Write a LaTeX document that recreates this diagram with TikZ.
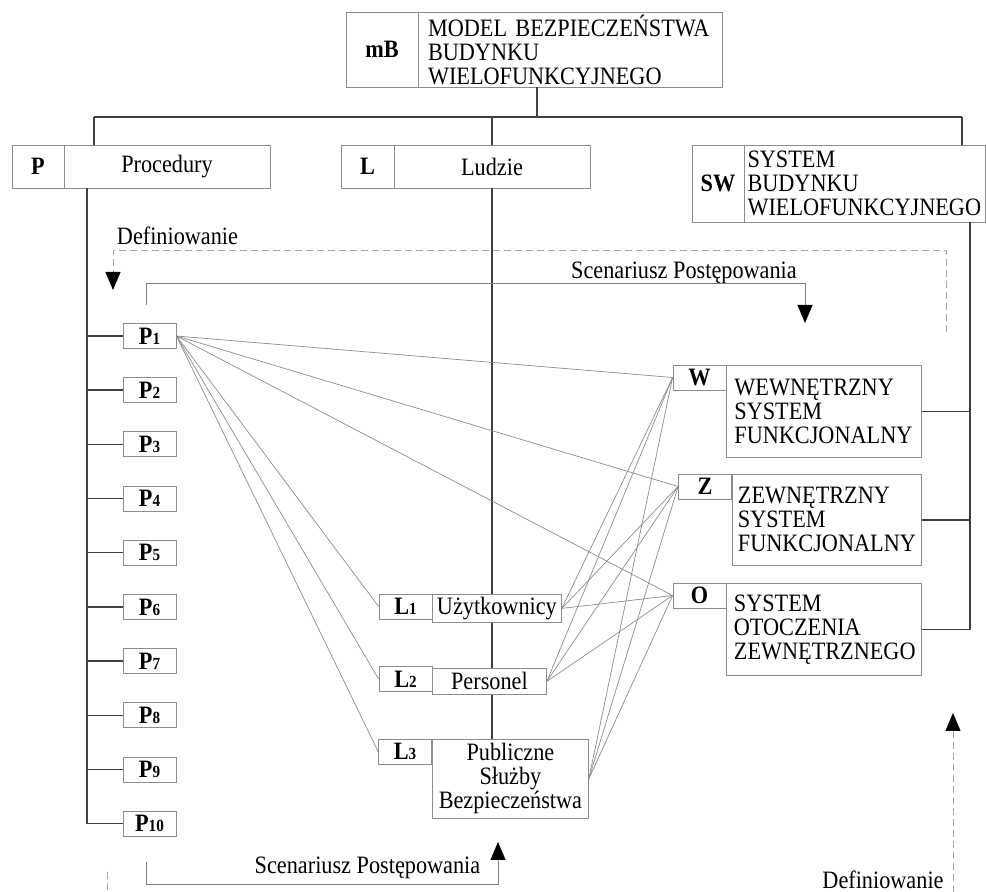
\documentclass[tikz,border=0pt]{standalone}
\usepackage{fontspec}
\setmainfont{Liberation Serif}[FakeStretch=0.89]
\usetikzlibrary{arrows.meta}
\hyphenpenalty=10000
\newcommand\txtsize{\fontsize{12.5}{12}\selectfont}
\newcommand\pidx[2]{\textbf{#1}{\fontsize{8.5}{8.5}\selectfont\textbf{#2}}}

\begin{document}
\begin{tikzpicture}[x=0.5pt, y=-0.5pt, font=\txtsize,
    box/.style={draw=black!45, fill=white, inner sep=0pt},
    lab/.style={box, font=\txtsize\bfseries},
    smlab/.style={lab, minimum width=26.5pt, minimum height=12.5pt},
    tree/.style={draw=black!75, line width=0.7pt},
    link/.style={draw=black!45, line width=0.35pt},
    flow/.style={draw=black!50, line width=0.45pt, -{Triangle[length=9pt, width=7.5pt, color=black]}},
    defn/.style={flow, draw=black!35, dash pattern=on 3.5pt off 2pt}]
    \useasboundingbox (0,0) rectangle (986,892);
    % model
    \node[lab, minimum width=36pt, minimum height=37.5pt] (mblab) at (382,49.5) {mB};
    \node[box, text width=142pt, inner xsep=5pt, minimum height=37.5pt, align=left] (mbtxt) at (570,49.5) {MODEL BEZPIECZEŃSTWA\\BUDYNKU\\WIELOFUNKCYJNEGO};
    % three parts
    \node[lab, minimum width=26pt, minimum height=21.5pt] (plab) at (38,166.5) {P};
    \node[box, minimum width=103pt, minimum height=21.5pt] (ptxt) at (167,166.5) {Procedury};
    \node[lab, minimum width=26.5pt, minimum height=21.5pt] (llab) at (367.5,166.5) {L};
    \node[box, minimum width=98pt, minimum height=21.5pt] (ltxt) at (492,166.5) {Ludzie};
    \node[lab, minimum width=26pt, minimum height=38.5pt] (swlab) at (718,183.5) {SW};
    \node[box, text width=117pt, inner xsep=1.75pt, minimum height=38.5pt, align=left] (swtxt) at (864.5,183.5) {SYSTEM\\BUDYNKU\\WIELOFUNKCYJNEGO};
    % procedures
    \foreach \i in {1,...,10}
        \node[smlab] (p\i) at (149.5,{336+54.2*(\i-1)}) {\pidx{P}{\i}};
    % people
    \node[smlab] (l1lab) at (405.5,606.5) {\pidx{L}{1}};
    \node[box, minimum width=64.5pt, minimum height=14pt, anchor=north west] (l1txt) at (432,594) {Użytkownicy};
    \node[smlab] (l2lab) at (405.5,679) {\pidx{L}{2}};
    \node[box, minimum width=57pt, minimum height=13pt, anchor=north west] (l2txt) at (432,668) {Personel};
    \node[smlab] (l3lab) at (405,751.5) {\pidx{L}{3}};
    \node[box, minimum width=78pt, minimum height=39.5pt, anchor=north west, align=center] (l3txt) at (432,739) {Publiczne\\Służby\\Bezpieczeństwa};
    % systems
    \node[smlab] (wlab) at (699.5,377.5) {W};
    \node[box, anchor=north west, text width=89.5pt, inner xsep=4pt, minimum height=46pt, align=left] (wtxt) at (726,365) {WEWNĘTRZNY\\SYSTEM\\FUNKCJONALNY};
    \node[smlab] (zlab) at (705,486.5) {Z};
    \node[box, anchor=north west, text width=89pt, inner xsep=2.75pt, minimum height=45.5pt, align=left] (ztxt) at (732,474) {ZEWNĘTRZNY\\SYSTEM\\FUNKCJONALNY};
    \node[smlab] (olab) at (699.5,595.5) {O};
    \node[box, anchor=north west, text width=90pt, inner xsep=3.75pt, minimum height=46pt, align=left] (otxt) at (726,583) {SYSTEM\\OTOCZENIA\\ZEWNĘTRZNEGO};

    % tree
    \coordinate (bmb) at (537,117); \coordinate (bp) at (94,117);
    \coordinate (bl) at (492,117); \coordinate (bsw) at (962,117);
    \coordinate (ps) at (87,0); \coordinate (ss) at (970,0);
    \draw[tree] (mbtxt.south -| bmb) -- (bmb);
    \draw[tree] (bp) -- (bsw);
    \draw[tree] (bp) -- (bp |- ptxt.north) (bl) -- (ltxt.north) (bsw) -- (bsw |- swtxt.north);
    \draw[tree] (ptxt.south -| ps) -- (ps |- p10) -- (p10.west);
    \foreach \i in {1,...,9} \draw[tree] (ps |- p\i) -- (p\i.west);
    \draw[tree] (ltxt.south) -- (ltxt.south |- l1txt.north)
        (l1txt.south -| ltxt) -- (l2txt.north -| ltxt)
        (l2txt.south -| ltxt) -- (l3txt.north -| ltxt);
    \draw[tree] (swtxt.south -| ss) -- (ss |- otxt) -- (otxt.east);
    \draw[tree] (ss |- wtxt) -- (wtxt.east) (ss |- ztxt) -- (ztxt.east);

    % links
    \foreach \t in {l1lab,l2lab,l3lab,wlab,zlab,olab} \draw[link] (p1.east) -- (\t.west);
    \foreach \s in {l1txt,l2txt,l3txt}
        \foreach \t in {wlab,zlab,olab} \draw[link] (\s.east) -- (\t.west);

    % flows
    \node (defa) at (177.5,235.5) {Definiowanie};
    \node (scena) at (684,273) {Scenariusz Postępowania};
    \node (scenb) at (367.5,868) {Scenariusz Postępowania};
    \node (defb) at (883,879.5) {Definiowanie};
    \coordinate (da) at (946,332); \coordinate (dc) at (113,250); \coordinate (de) at (113,290);
    \draw[defn] (da) |- (dc) -- (de);
    \coordinate (sa) at (146,305); \coordinate (sc) at (805,283); \coordinate (se) at (805,323);
    \draw[flow] (sa) |- (sc) -- (se);
    \coordinate (ta) at (146,862); \coordinate (tc) at (498,884); \coordinate (te) at (498,842);
    \draw[flow] (ta) |- (tc) -- (te);
    \coordinate (ra) at (953,892); \coordinate (re) at (953,713);
    \draw[defn] (ra) -- (re);
    \coordinate (la) at (107,872); \coordinate (le) at (107,892);
    \draw[defn, -] (la) -- (le);
\end{tikzpicture}
\end{document}
